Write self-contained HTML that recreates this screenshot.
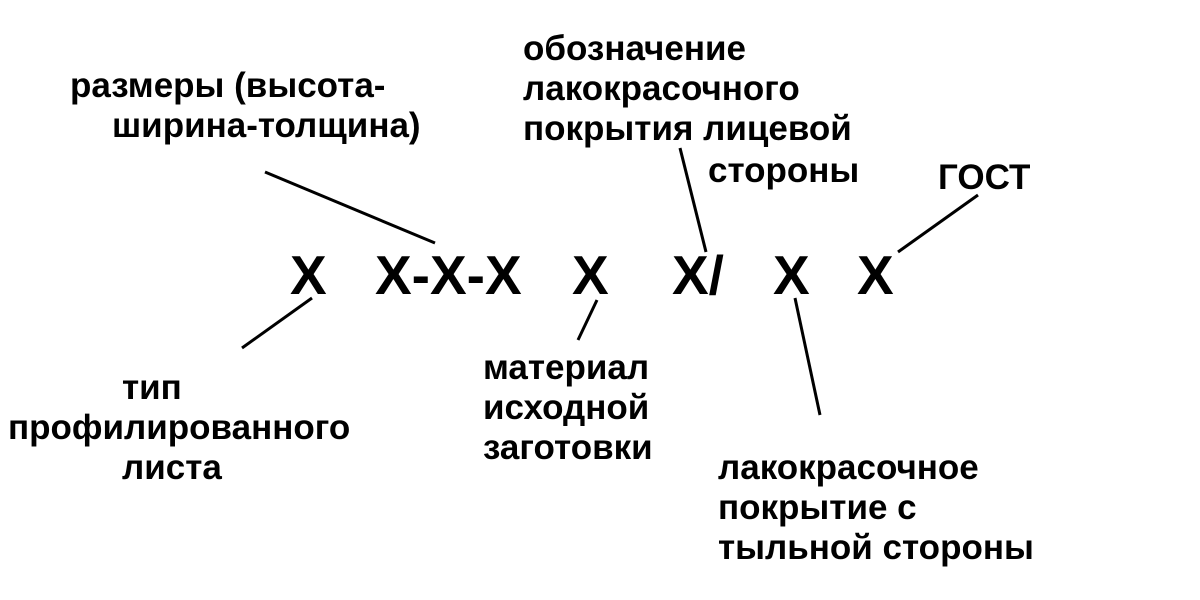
<!DOCTYPE html>
<html><head><meta charset="utf-8"><style>
body{margin:0;width:1200px;height:600px;background:#fff;position:relative;overflow:hidden;font-family:"Liberation Sans",Arial,sans-serif;font-weight:bold;color:#000}
.t{position:absolute;font-size:35px;line-height:35px;white-space:nowrap}
.x{position:absolute;font-size:55px;line-height:55px;white-space:nowrap}
svg{position:absolute;left:0;top:0}
</style></head><body>
<div class="t" style="left:70px;top:68px">размеры (высота-</div>
<div class="t" style="left:112px;top:108px">ширина-толщина)</div>
<div class="t" style="left:523px;top:31px">обозначение</div>
<div class="t" style="left:523px;top:71px">лакокрасочного</div>
<div class="t" style="left:523px;top:111px">покрытия лицевой</div>
<div class="t" style="left:708px;top:153px">стороны</div>
<div class="t" style="left:938px;top:160px">ГОСТ</div>
<div class="x" style="left:290px;top:248px">X</div>
<div class="x" style="left:375px;top:248px">X-X-X</div>
<div class="x" style="left:572px;top:248px">X</div>
<div class="x" style="left:672px;top:248px">X/</div>
<div class="x" style="left:773px;top:248px">X</div>
<div class="x" style="left:857px;top:248px">X</div>
<div class="t" style="left:122px;top:370px">тип</div>
<div class="t" style="left:8px;top:410px">профилированного</div>
<div class="t" style="left:122px;top:450px">листа</div>
<div class="t" style="left:483px;top:350px">материал</div>
<div class="t" style="left:483px;top:390px">исходной</div>
<div class="t" style="left:483px;top:430px">заготовки</div>
<div class="t" style="left:718px;top:450px">лакокрасочное</div>
<div class="t" style="left:718px;top:490px">покрытие с</div>
<div class="t" style="left:718px;top:530px">тыльной стороны</div>
<svg width="1200" height="600" stroke="#000" stroke-width="3">
<line x1="265" y1="172" x2="435" y2="243"/>
<line x1="680" y1="148" x2="706" y2="252"/>
<line x1="978" y1="195" x2="898" y2="252"/>
<line x1="242" y1="348" x2="312" y2="298"/>
<line x1="597" y1="300" x2="578" y2="340"/>
<line x1="795" y1="298" x2="820" y2="415"/>
</svg>
</body></html>
